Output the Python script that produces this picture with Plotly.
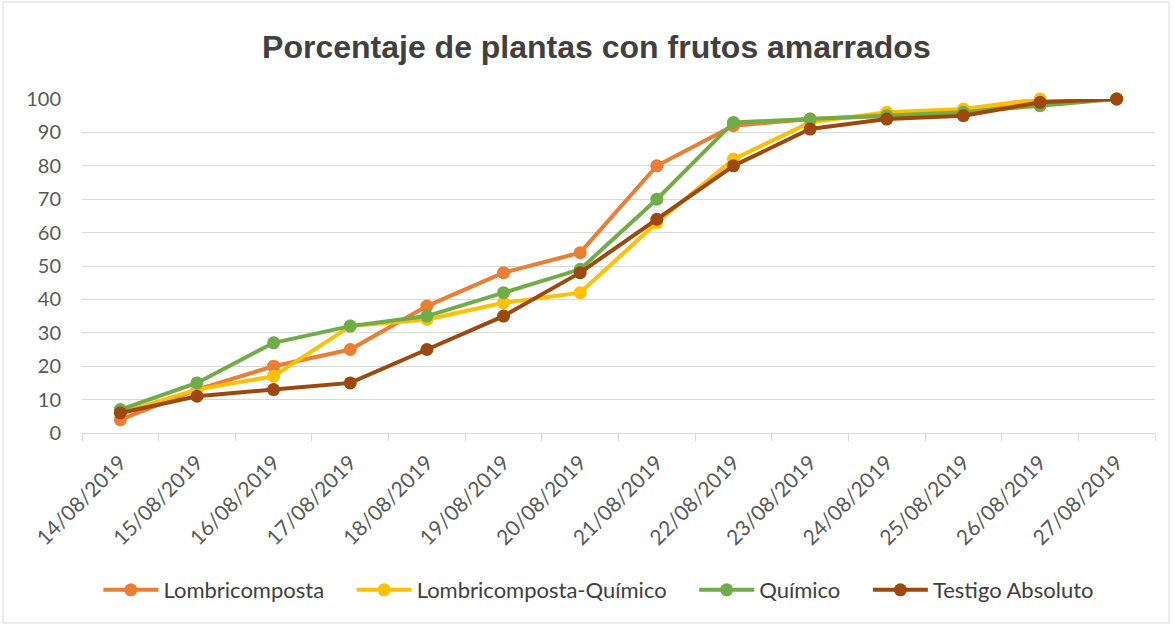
import plotly.graph_objects as go

dates = ["14/08/2019", "15/08/2019", "16/08/2019", "17/08/2019", "18/08/2019",
         "19/08/2019", "20/08/2019", "21/08/2019", "22/08/2019", "23/08/2019",
         "24/08/2019", "25/08/2019", "26/08/2019", "27/08/2019"]
lombricomposta = [4, 13, 20, 25, 38, 48, 54, 80, 92, 94, 95, 96, 99, 100]
lombri_quimico = [6, 13, 17, 32, 34, 39, 42, 63, 82, 93, 96, 97, 100, 100]
quimico = [7, 15, 27, 32, 35, 42, 49, 70, 93, 94, 95, 96, 98, 100]
testigo = [6, 11, 13, 15, 25, 35, 48, 64, 80, 91, 94, 95, 99, 100]

series = [
    ("Lombricomposta", lombricomposta, "#ED7D31"),
    ("Lombricomposta-Químico", lombri_quimico, "#FFC000"),
    ("Químico", quimico, "#70AD47"),
    ("Testigo Absoluto", testigo, "#9E480E"),
]

PAD = "\u00a0" * 4

fig = go.Figure()
for name, vals, color in series:
    fig.add_trace(go.Scatter(
        x=dates, y=vals, name=name + PAD, mode="lines+markers",
        line=dict(color=color, width=4),
        marker=dict(color=color, size=13),
        cliponaxis=False,
    ))

tick_font_y = dict(family="Lato, 'Open Sans', sans-serif", size=20, color="#595959")
tick_font_x = dict(family="Lato, 'Open Sans', sans-serif", size=21, color="#595959")

fig.update_layout(
    width=1174, height=626,
    paper_bgcolor="white", plot_bgcolor="white",
    margin=dict(l=82, r=19, t=99, b=193, autoexpand=False),
    title=dict(text="<b>Porcentaje de plantas con frutos amarrados</b>",
               x=0.508, xanchor="center", y=0.925, yanchor="middle",
               font=dict(family="Liberation Sans, Arial, sans-serif", size=32, color="#404040")),
    xaxis=dict(type="category", tickangle=-45, tickfont=tick_font_x, automargin=False,
               showgrid=False, showline=True, linecolor="#D9D9D9", linewidth=1,
               ticks="outside", tickson="boundaries", ticklen=7, tickcolor="#D9D9D9",
               ticklabelstandoff=8, range=[-0.5, 13.5]),
    yaxis=dict(range=[0, 100], dtick=10, tickfont=tick_font_y, automargin=False,
               showgrid=True, gridcolor="#D9D9D9", gridwidth=1,
               zeroline=False, showline=False, ticks="", ticklabelstandoff=20),
    legend=dict(orientation="h", x=0.492, xanchor="center", y=-0.47, yanchor="middle",
                font=dict(family="Lato, 'Open Sans', sans-serif", size=22, color="#404040"),
                itemwidth=55, tracegroupgap=0),
    showlegend=True,
)

fig.add_shape(type="rect", xref="paper", yref="paper",
              x0=-79/1073, x1=1+14/1073, y0=-190/334, y1=1+97/334,
              line=dict(color="#D9D9D9", width=1), fillcolor="rgba(0,0,0,0)", layer="below")

fig.write_html("out.html", post_script="document.body.style.margin='0';",
               config={"displayModeBar": False})
